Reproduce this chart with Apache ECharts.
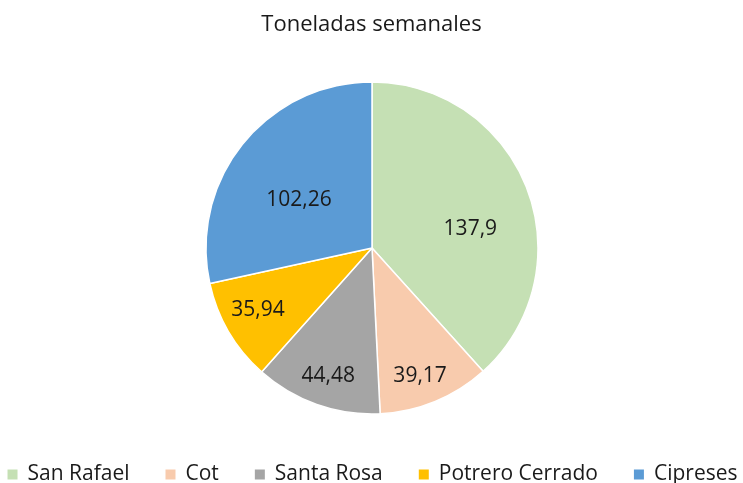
<!DOCTYPE html>
<html>
<head>
<meta charset="utf-8">
<script src="https://cdn.jsdelivr.net/npm/echarts@6/dist/echarts.min.js"></script>
<style>
  html, body { margin: 0; padding: 0; background: #fff; }
  #chart { width: 743px; height: 483px; }
</style>
</head>
<body>
<div id="chart"></div>
<script>
const categories = ['San Rafael', 'Cot', 'Santa Rosa', 'Potrero Cerrado', 'Cipreses'];
const values = [137.9, 39.17, 44.48, 35.94, 102.26];
const colors = ['#C5E0B4', '#F8CBAD', '#A5A5A5', '#FFC000', '#5B9BD5'];
// label placement tweaks (excel "best fit" look): push factor + pixel nudge
const labelPush = [1.2, 1.62, 1.6, 1.55, 1.06];
const labelNudge = [[2, 18], [-5, -1], [2, -2], [1, -5], [-2, 9]];

const cx = 372, cy = 248;
const fontFam = '"Open Sans", "Noto Sans", sans-serif';

const chart = echarts.init(document.getElementById('chart'));
const option = {
    animation: false,
    title: {
        text: 'Toneladas semanales',
        left: 'center',
        top: 9,
        textStyle: { fontFamily: fontFam, fontSize: 22, fontWeight: 'normal', color: '#1a1a1a' }
    },
    color: colors,
    legend: {
        top: 459,
        left: 'center',
        itemWidth: 12,
        itemHeight: 12,
        itemGap: 34,
        icon: 'rect',
        textStyle: { fontFamily: fontFam, fontSize: 21, color: '#1a1a1a', padding: [0, 0, 0, 4] },
        data: categories
    },
    series: [{
        type: 'pie',
        center: [cx, cy],
        radius: 166,
        startAngle: 90,
        clockwise: true,
        itemStyle: { borderColor: '#fff', borderWidth: 1.5 },
        label: {
            position: 'inside',
            fontFamily: fontFam,
            fontSize: 21,
            color: '#1a1a1a',
            formatter: p => String(p.value).replace('.', ',')
        },
        labelLayout: function (p) {
            const r = p.labelRect;
            const mx = r.x + r.width / 2, my = r.y + r.height / 2;
            const k = labelPush[p.dataIndex];
            const n = labelNudge[p.dataIndex];
            return {
                x: cx + (mx - cx) * k + n[0],
                y: cy + (my - cy) * k + n[1],
                align: 'center',
                verticalAlign: 'middle'
            };
        },
        emphasis: { disabled: true },
        data: categories.map((c, i) => ({ name: c, value: values[i] }))
    }]
};
chart.setOption(option);
</script>
</body>
</html>
